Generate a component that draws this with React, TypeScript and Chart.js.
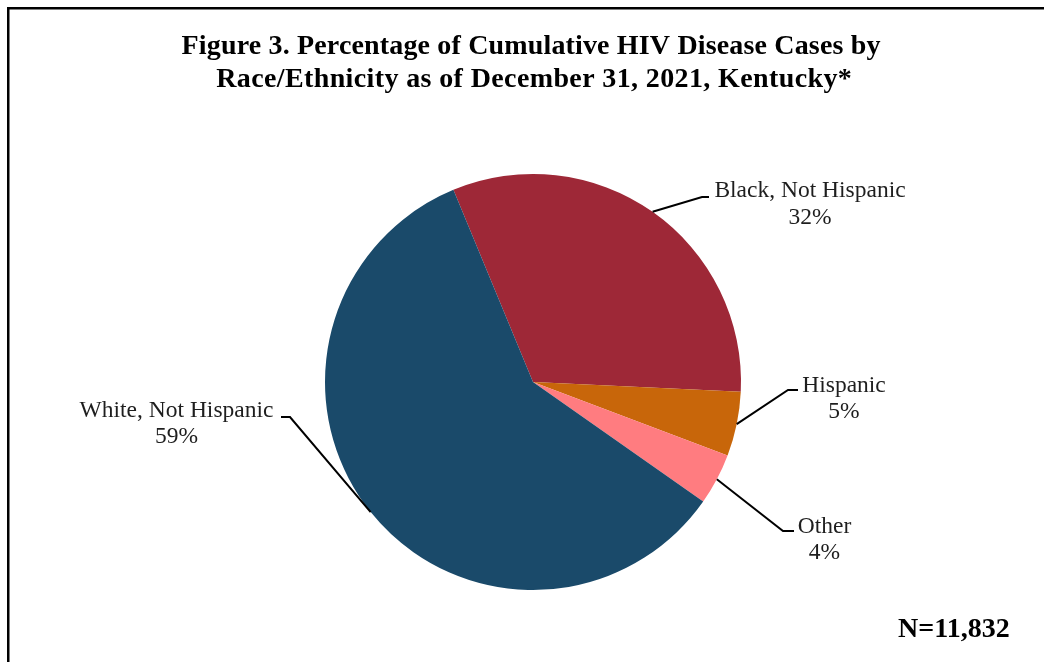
import { useEffect, useRef } from "react";
import { Chart, registerables } from "chart.js";

Chart.register(...registerables);

// Race/ethnicity groups, drawn clockwise from the top-left
const categories = ["Black, Not Hispanic", "Hispanic", "Other", "White, Not Hispanic"];
const percentages = [32, 5, 4, 59];
const sliceColors = ["#9E2837", "#C8660A", "#FF7C80", "#1A4A6A"];

const titleLines = [
  "Figure 3. Percentage of Cumulative HIV Disease Cases by",
  "Race/Ethnicity as of December 31, 2021, Kentucky*",
];
const caseTotal = "N=11,832";

const SERIF = "'Liberation Serif', 'Times New Roman', serif";

// Where each category label sits, with the elbow of its leader line
const labelLayout = [
  { elbowX: 702, elbowY: 197, tailX: 709, textX: 810, baseY: 197 },
  { elbowX: 788, elbowY: 390, tailX: 798, textX: 844, baseY: 391.5 },
  { elbowX: 783, elbowY: 531, tailX: 794, textX: 824.5, baseY: 532.5 },
  { elbowX: 290, elbowY: 417, tailX: 281, textX: 176.5, baseY: 416.5 },
];

// Title lines are set to a fixed measure
const titleWidths = [699, 636];
const titleCenters = [531, 534];
const titleBaselines = [54, 87];

const overlayPlugin = {
  id: "overlay",
  afterDraw(chart: any) {
    const ctx: CanvasRenderingContext2D = chart.ctx;
    ctx.save();

    // frame
    ctx.fillStyle = "#000";
    ctx.fillRect(7, 7, chart.width, 2.5);
    ctx.fillRect(7, 7, 2.5, chart.height);

    // title
    ctx.fillStyle = "#000";
    ctx.font = `bold 28px ${SERIF}`;
    ctx.textAlign = "center";
    ctx.textBaseline = "alphabetic";
    titleLines.forEach((line, i) => {
      (ctx as any).letterSpacing = "0px";
      const w = ctx.measureText(line).width;
      const sp = (titleWidths[i] - w) / line.length;
      (ctx as any).letterSpacing = `${sp}px`;
      ctx.fillText(line, titleCenters[i] + sp / 2, titleBaselines[i]);
    });
    (ctx as any).letterSpacing = "0px";

    // total count
    ctx.font = `bold 28px ${SERIF}`;
    ctx.textAlign = "left";
    ctx.fillText(caseTotal, 898, 637);

    // leader lines and category labels
    const meta = chart.getDatasetMeta(0);
    meta.data.forEach((arc: any, i: number) => {
      const p = arc.getProps(["x", "y", "startAngle", "endAngle", "outerRadius"], true);
      const mid = (p.startAngle + p.endAngle) / 2;
      const sx = p.x + p.outerRadius * Math.cos(mid);
      const sy = p.y + p.outerRadius * Math.sin(mid);
      const L = labelLayout[i];
      ctx.strokeStyle = "#000";
      ctx.lineWidth = 2;
      ctx.beginPath();
      ctx.moveTo(sx, sy);
      ctx.lineTo(L.elbowX, L.elbowY);
      ctx.lineTo(L.tailX, L.elbowY);
      ctx.stroke();

      ctx.fillStyle = "#1E1E1E";
      ctx.font = `23.5px ${SERIF}`;
      ctx.textAlign = "center";
      ctx.fillText(categories[i], L.textX, L.baseY);
      ctx.fillText(`${percentages[i]}%`, L.textX, L.baseY + 26.5);
    });

    ctx.restore();
  },
};

export default function App() {
  const canvasRef = useRef<HTMLCanvasElement | null>(null);

  useEffect(() => {
    const canvas = canvasRef.current;
    if (!canvas) return;
    const chart = new Chart(canvas, {
      type: "pie",
      data: {
        labels: categories,
        datasets: [
          {
            data: percentages,
            backgroundColor: sliceColors,
            borderWidth: 0,
            hoverOffset: 0,
          },
        ],
      },
      options: {
        responsive: false,
        animation: false,
        devicePixelRatio: 1,
        rotation: -22.5,
        layout: { padding: { left: 325, right: 303, top: 174, bottom: 72 } },
        plugins: {
          legend: { display: false },
          tooltip: { enabled: false },
          title: { display: false },
        },
        events: [],
      },
      plugins: [overlayPlugin],
    });
    return () => chart.destroy();
  }, []);

  return (
    <div style={{ position: "absolute", left: 0, top: 0, width: 1044, height: 662, background: "#fff" }}>
      <canvas ref={canvasRef} width={1044} height={662} style={{ display: "block" }} />
    </div>
  );
}
